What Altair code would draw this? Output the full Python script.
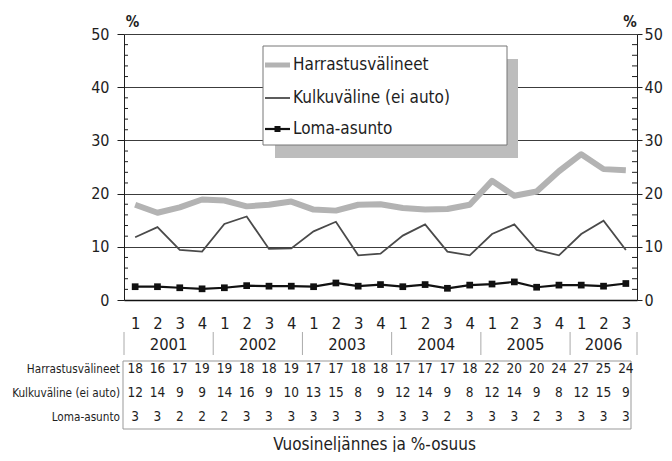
import altair as alt
import pandas as pd

# ---------------- data ----------------
years = [2001] * 4 + [2002] * 4 + [2003] * 4 + [2004] * 4 + [2005] * 4 + [2006] * 3
quarters = [1, 2, 3, 4] * 5 + [1, 2, 3]
series_names = ["Harrastusvälineet", "Kulkuväline (ei auto)", "Loma-asunto"]
harrastus = [17.9, 16.4, 17.4, 18.9, 18.7, 17.6, 17.9, 18.5, 17.0, 16.8, 17.9, 18.0,
             17.3, 17.0, 17.1, 17.9, 22.4, 19.6, 20.4, 24.2, 27.4, 24.6, 24.4]
kulku = [11.8, 13.7, 9.4, 9.1, 14.3, 15.7, 9.6, 9.7, 12.9, 14.7, 8.4, 8.7,
         12.1, 14.2, 9.1, 8.4, 12.4, 14.2, 9.4, 8.4, 12.4, 14.9, 9.4]
loma = [2.5, 2.5, 2.3, 2.1, 2.3, 2.7, 2.6, 2.6, 2.5, 3.2, 2.6, 2.9,
        2.5, 2.9, 2.2, 2.8, 3.0, 3.4, 2.4, 2.8, 2.8, 2.6, 3.1]
table_harrastus = [18, 16, 17, 19, 19, 18, 18, 19, 17, 17, 18, 18, 17, 17, 17, 18, 22, 20, 20, 24, 27, 25, 24]
table_kulku = [12, 14, 9, 9, 14, 16, 9, 10, 13, 15, 8, 9, 12, 14, 9, 8, 12, 14, 9, 8, 12, 15, 9]
table_loma = [3, 3, 2, 2, 2, 3, 3, 3, 3, 3, 3, 3, 3, 3, 2, 3, 3, 3, 2, 3, 3, 3, 3]
major_ticks = [0, 10, 20, 30, 40, 50]
minor_ticks = [2, 4, 6, 8, 12, 14, 16, 18, 22, 24, 26, 28, 32, 34, 36, 38, 42, 44, 46, 48]
x_title = "Vuosineljännes ja %-osuus"
y_title = "%"

# ---------------- layout / style ----------------
W, H = 513, 266
FONT = "DejaVu Sans Condensed, DejaVu Sans, sans-serif"
INK = "#1e1e1e"

idx = list(range(len(years)))
df = pd.DataFrame({
    "i": idx, "year": years, "q": quarters,
    "h": harrastus, "k": kulku, "l": loma,
    "th": table_harrastus, "tk": table_kulku, "tl": table_loma,
})
X = alt.Scale(domain=[-0.5, len(idx) - 0.5], nice=False, zero=False)
Y = alt.Scale(domain=[0, 50], nice=False, zero=True)
base = alt.Chart(df)
one = alt.Chart(pd.DataFrame({"a": [0]}))

x_axis = alt.Axis(
    orient="bottom", values=idx, labelExpr=f"'' + {quarters}[datum.value]",
    ticks=False, tickSize=0, domain=True, domainColor="#111", domainWidth=1.5,
    grid=False, labelFont=FONT, labelFontSize=16.5, labelColor=INK,
    labelPadding=15, labelAngle=0, labelFlush=False, labelOverlap=False,
    title=x_title, titleFont=FONT, titleFontSize=17, titleFontWeight="normal",
    titleColor=INK, titleX=250, titleY=149, titleAlign="center",
    titleBaseline="alphabetic",
)

def y_axis(orient, grid, title_x, tick, pad):
    return alt.Axis(
        orient=orient, values=major_ticks, grid=grid, gridColor="#3c3c3c",
        gridWidth=1, domain=True, domainColor=INK, domainWidth=1,
        ticks=True, tickSize=tick, tickColor=INK, tickWidth=1,
        labelFont=FONT, labelFontSize=16, labelColor=INK, labelPadding=pad,
        title=y_title, titleAngle=0, titleX=title_x, titleY=-8,
        titleAlign="center", titleBaseline="alphabetic", titleFont=FONT,
        titleFontSize=15, titleFontWeight="bold", titleColor=INK,
    )

# ---------------- series lines ----------------
harr_line = base.mark_line(color="#b3b3b3", strokeWidth=6, strokeJoin="round").encode(
    x=alt.X("i:Q", scale=X, axis=x_axis),
    y=alt.Y("h:Q", scale=Y, axis=y_axis("left", True, 8, 7, 8)),
)
kulku_line = base.mark_line(color="#4a4a4a", strokeWidth=1.8).encode(
    x=alt.X("i:Q", scale=X, axis=None),
    y=alt.Y("k:Q", scale=Y, axis=None),
)
loma_line = base.mark_line(color="#111", strokeWidth=2.2).encode(
    x=alt.X("i:Q", scale=X, axis=None),
    y=alt.Y("l:Q", scale=Y, axis=None),
)
loma_pts = base.mark_square(color="#111", size=45, opacity=1).encode(
    x=alt.X("i:Q", scale=X, axis=None),
    y=alt.Y("l:Q", scale=Y, axis=None),
)

# ---------------- minor ticks + right axis ----------------
minor_df = pd.DataFrame({"v": minor_ticks})
minor_left = alt.Chart(minor_df).mark_rule(color=INK, strokeWidth=1).encode(
    x=alt.value(0), x2=alt.value(4), y=alt.Y("v:Q", scale=Y, axis=None),
)
minor_right = alt.Chart(minor_df).mark_rule(color=INK, strokeWidth=1).encode(
    x=alt.value(W - 5), x2=alt.value(W),
    y=alt.Y("v:Q", scale=Y, axis=y_axis("right", False, -7.5, 5, 2)),
)

# ---------------- legend box ----------------
shadow = one.mark_rect(fill="#bdbdbd").encode(
    x=alt.value(151), x2=alt.value(394), y=alt.value(25), y2=alt.value(124))
box = one.mark_rect(fill="white", stroke="#777", strokeWidth=1).encode(
    x=alt.value(139), x2=alt.value(383), y=alt.value(12), y2=alt.value(111))
leg_rows = [31, 64, 95]
leg_sym = [
    one.mark_rule(color="#b3b3b3", strokeWidth=5).encode(
        x=alt.value(141), x2=alt.value(166), y=alt.value(leg_rows[0])),
    one.mark_rule(color="#4a4a4a", strokeWidth=1.8).encode(
        x=alt.value(141), x2=alt.value(166), y=alt.value(leg_rows[1])),
    one.mark_rule(color="#111", strokeWidth=2.2).encode(
        x=alt.value(141), x2=alt.value(166), y=alt.value(leg_rows[2])),
    one.mark_square(color="#111", size=36, opacity=1).encode(
        x=alt.value(153.5), y=alt.value(leg_rows[2])),
]
leg_text = [
    alt.Chart(pd.DataFrame({"name": [n]})).mark_text(
        font=FONT, fontSize=17, color=INK, align="left", baseline="middle").encode(
        x=alt.value(169), y=alt.value(ry), text="name:N")
    for n, ry in zip(series_names, leg_rows)
]

# ---------------- table under the chart ----------------
row_y = [334.5, 358.5, 382.5]
table_box = one.mark_rect(fill="white", fillOpacity=0, stroke="#999", strokeWidth=1).encode(
    x=alt.value(-1), x2=alt.value(507), y=alt.value(327), y2=alt.value(395))
table_nums = [
    base.mark_text(font=FONT, fontSize=13.5, color=INK, align="center", baseline="middle").encode(
        x=alt.X("i:Q", scale=X, axis=None), y=alt.value(ry), text=alt.Text(f"{col}:Q", format="d"))
    for col, ry in zip(["th", "tk", "tl"], row_y)
]
row_labels = [
    alt.Chart(pd.DataFrame({"name": [n]})).mark_text(
        font=FONT, fontSize=11.7, color=INK, align="right", baseline="middle").encode(
        x=alt.value(-4), y=alt.value(ry), text="name:N")
    for n, ry in zip(series_names, row_y)
]

# ---------------- year row ----------------
yr = df.groupby("year")["i"].agg(["min", "max"]).reset_index()
yr["mid"] = (yr["min"] + yr["max"]) / 2
year_df = yr[["year", "mid"]]
bounds = sorted(set(list(yr["min"] - 0.5) + list(yr["max"] + 0.5)))
sep_df = pd.DataFrame({"b": bounds})
year_text = alt.Chart(year_df).mark_text(
    font=FONT, fontSize=16.5, color=INK, align="center", baseline="middle").encode(
    x=alt.X("mid:Q", scale=X, axis=None), y=alt.value(310.5), text="year:N")
year_sep = alt.Chart(sep_df).mark_rule(color="#aaa", strokeWidth=1).encode(
    x=alt.X("b:Q", scale=X, axis=None), y=alt.value(298), y2=alt.value(321))

chart = alt.layer(
    harr_line, kulku_line, loma_line, loma_pts, minor_left, minor_right,
    shadow, box, *leg_sym, *leg_text,
    table_box, *table_nums, *row_labels, year_text, year_sep,
).resolve_axis(x="independent", y="independent").properties(
    width=W, height=H,
    padding={"left": 116, "top": 26, "right": 27, "bottom": 152},
    autosize=alt.AutoSizeParams(type="none"),
    background="white",
).configure_view(stroke=None)

chart.save("out.html", embed_options={"renderer": "svg", "actions": False})
